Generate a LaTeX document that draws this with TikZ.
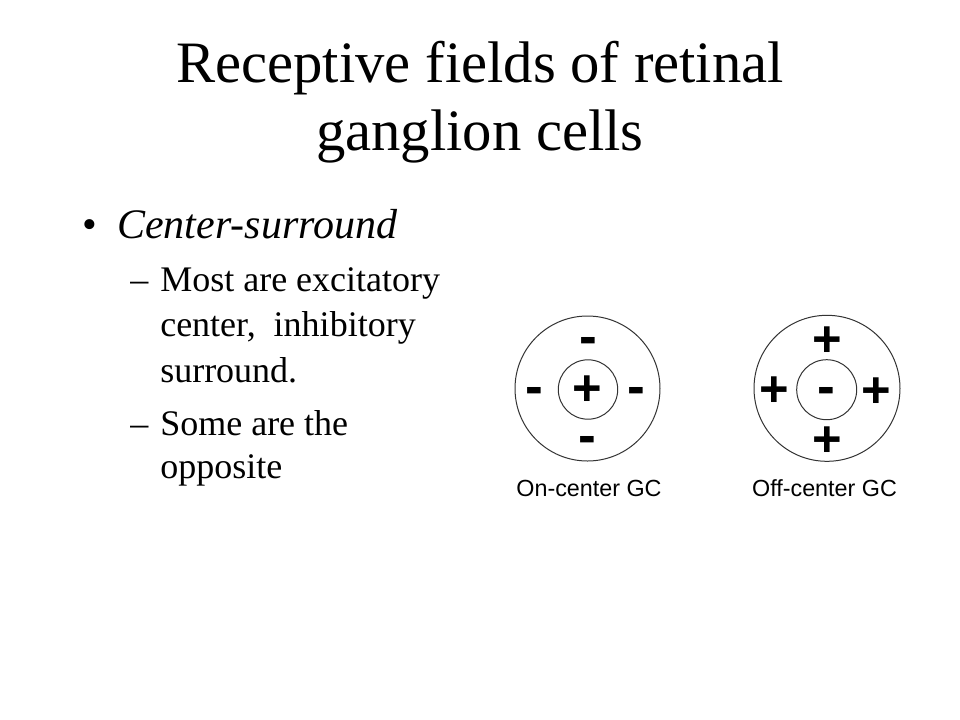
\documentclass[tikz,border=0pt]{standalone}
\usepackage{fontspec}
\setmainfont{Liberation Serif}
\newfontfamily\arialfont{Liberation Sans}

\begin{document}
\begin{tikzpicture}[x=0.75bp, y=-0.75bp, every node/.style={inner sep=0pt},
		title/.style={font=\fontsize{44bp}{50bp}\selectfont, anchor=base},
		body/.style={font=\fontsize{31.5bp}{36bp}\selectfont, anchor=base west},
		sub/.style={font=\fontsize{27bp}{32bp}\selectfont, anchor=base west},
		ring/.style={draw=black!80, line width=0.75bp},
		exc/.style={font=\arialfont\bfseries\fontsize{38bp}{38bp}\selectfont, anchor=base, yshift=-13.1bp},
		inh/.style={font=\arialfont\bfseries\fontsize{40bp}{40bp}\selectfont, anchor=base, yshift=-11.6bp},
		gc/.style={font=\arialfont\fontsize{17.5bp}{21bp}\selectfont, anchor=base}]
			\useasboundingbox (0,0) rectangle (960,720);

			% Title
			\node[title] (title1) at (480,82.7) {Receptive fields of retinal};
			\node[title] (title2) at (480,150) {ganglion cells};

			% Bullets
			\node[body, anchor=base] (dot) at (89.7,238) {\textbullet};
			\node[body] (cs) at (117,238) {\itshape Center-surround};
			\node[sub] (dashA) at (130,291.7) {\textendash};
			\node[sub] (mostA) at (160,291.7) {Most are excitatory};
			\node[sub] (mostB) at (160,336.7) {center,\ \ inhibitory};
			\node[sub] (mostC) at (160,382.7) {surround.};
			\node[sub] (dashB) at (130,435) {\textendash};
			\node[sub] (someA) at (160,435) {Some are the};
			\node[sub] (someB) at (160,478.3) {opposite};

			% On-center field
			\draw[ring] (587.5,388.5) circle (72.5);
			\draw[ring] (588,389.5) circle (29.7);
			\node[exc] (onC) at (587,388.5) {+};
			\node[inh] (onN) at (588.7,339.3) {-};
			\node[inh] (onW) at (534,389) {-};
			\node[inh] (onE) at (636,389) {-};
			\node[inh] (onS) at (587.3,438) {-};

			% Off-center field
			\draw[ring] (827,388.3) circle (73);
			\draw[ring] (826.7,389.7) circle (30);
			\node[inh] (offC) at (826.3,389.3) {-};
			\node[exc] (offN) at (827.2,339.2) {+};
			\node[exc] (offW) at (773.8,388.7) {+};
			\node[exc] (offE) at (876.3,389.7) {+};
			\node[exc] (offS) at (827.2,439.5) {+};

			% Labels
			\node[gc] (onL) at (589,496.7) {On-center GC};
			\node[gc] (offL) at (824.5,496.7) {Off-center GC};
		\end{tikzpicture}
\end{document}
